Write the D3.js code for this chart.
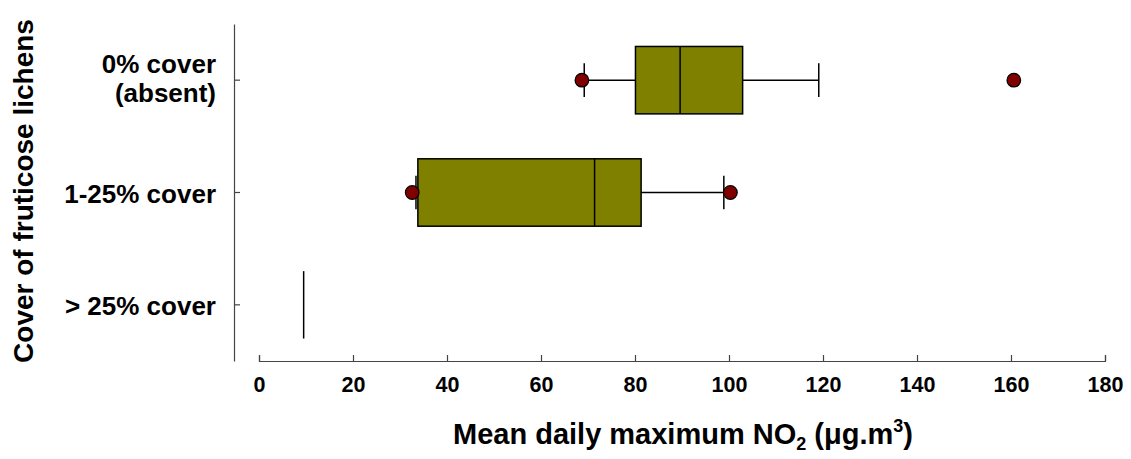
<!DOCTYPE html>
<html>
<head>
<meta charset="utf-8">
<script src="https://cdn.jsdelivr.net/npm/d3@7"></script>
<style>
  body { margin: 0; background: #fff; }
  svg text { font-family: "Liberation Sans", Arial, sans-serif; font-weight: bold; fill: #000; }
</style>
</head>
<body>
<svg id="chart" width="1131" height="459"></svg>
<script>
// values
const categories = ['0% cover|(absent)', '1-25% cover', '> 25% cover']
const whiskerLow = [69.2, 33.4, null]
const q1 = [80.1, 33.8, 9.5]
const median = [89.6, 71.4, 9.5]
const q3 = [102.9, 81.3, 9.5]
const whiskerHigh = [119.1, 98.9, null]
const outliers = [[68.7, 160.6], [32.6, 100.3], []]
const xTicks = [0, 20, 40, 60, 80, 100, 120, 140, 160, 180]

const rows = categories.map((c, i) => ({
  cat: c, lo: whiskerLow[i], q1: q1[i], med: median[i], q3: q3[i], hi: whiskerHigh[i], out: outliers[i]
}))

const svg = d3.select('#chart')
const mLeft = 259, mRight = 1105, mTop = 24, mBottom = 361, yAxisX = 234

const x = d3.scaleLinear().domain([0, 180]).range([mLeft, mRight])
const y = d3.scaleBand().domain(categories).range([mTop, mBottom]).paddingInner(0.4).paddingOuter(0.2)

// x axis, ticks pointing up
const xAxis = svg.append('g')
  .attr('transform', 'translate(0,' + mBottom + ')')
  .call(d3.axisBottom(x).tickValues(xTicks).tickSizeInner(-6).tickSizeOuter(-6).tickPadding(16))
xAxis.attr('font-family', null).attr('font-size', null)
xAxis.select('.domain').attr('stroke', '#444').attr('stroke-width', 1.2)
xAxis.selectAll('.tick line').attr('stroke', '#444').attr('stroke-width', 1.2)
xAxis.selectAll('.tick text').attr('font-size', 21.5)

// y axis, ticks pointing right
const yAxis = svg.append('g')
  .attr('transform', 'translate(' + yAxisX + ',0)')
  .call(d3.axisLeft(y).tickSizeInner(-6).tickSizeOuter(0).tickPadding(18))
yAxis.attr('font-family', null).attr('font-size', null)
yAxis.select('.domain').attr('stroke', '#444').attr('stroke-width', 1.2)
yAxis.selectAll('.tick line').attr('stroke', '#444').attr('stroke-width', 1.2)
yAxis.selectAll('.tick text')
  .attr('font-size', 26)
  .each(function (d) {
    const parts = d.split('|')
    const t = d3.select(this).text(null).attr('dy', null)
    if (parts.length === 1) {
      t.append('tspan').attr('x', -18).attr('y', 10.5).text(parts[0])
    } else {
      t.append('tspan').attr('x', -18).attr('y', -7.3).text(parts[0])
      t.append('tspan').attr('x', -18).attr('y', 21.7).text(parts[1])
    }
  })

// boxes
const g = svg.append('g')
const box = g.selectAll('.box').data(rows).enter().append('g').attr('class', 'box')
const bw = y.bandwidth()
const cy = d => y(d.cat) + bw / 2

box.filter(d => d.lo != null).append('line')
  .attr('x1', d => x(d.lo)).attr('x2', d => x(d.q1))
  .attr('y1', cy).attr('y2', cy)
  .attr('stroke', '#000').attr('stroke-width', 1.5)
box.filter(d => d.hi != null).append('line')
  .attr('x1', d => x(d.q3)).attr('x2', d => x(d.hi))
  .attr('y1', cy).attr('y2', cy)
  .attr('stroke', '#000').attr('stroke-width', 1.5)
box.filter(d => d.lo != null).append('line')
  .attr('x1', d => x(d.lo)).attr('x2', d => x(d.lo))
  .attr('y1', d => cy(d) - bw / 4).attr('y2', d => cy(d) + bw / 4)
  .attr('stroke', '#000').attr('stroke-width', 1.5)
box.filter(d => d.hi != null).append('line')
  .attr('x1', d => x(d.hi)).attr('x2', d => x(d.hi))
  .attr('y1', d => cy(d) - bw / 4).attr('y2', d => cy(d) + bw / 4)
  .attr('stroke', '#000').attr('stroke-width', 1.5)

box.filter(d => d.q3 > d.q1).append('rect')
  .attr('x', d => x(d.q1)).attr('width', d => x(d.q3) - x(d.q1))
  .attr('y', d => y(d.cat)).attr('height', bw)
  .attr('fill', '#808000').attr('stroke', '#000').attr('stroke-width', 1.5)

box.append('line')
  .attr('x1', d => x(d.med)).attr('x2', d => x(d.med))
  .attr('y1', d => y(d.cat)).attr('y2', d => y(d.cat) + bw)
  .attr('stroke', '#000').attr('stroke-width', 1.5)

box.selectAll('circle').data(d => d.out.map(v => ({ v, cat: d.cat }))).enter().append('circle')
  .attr('cx', d => x(d.v)).attr('cy', cy).attr('r', 6.8)
  .attr('fill', '#800000').attr('stroke', '#000').attr('stroke-width', 1.2)

// axis titles
svg.append('text')
  .attr('transform', 'translate(32.5,' + 191 + ') rotate(-90)')
  .attr('text-anchor', 'middle')
  .attr('font-size', 28)
  .text('Cover of fruticose lichens')

const xt = svg.append('text')
  .attr('x', (mLeft + mRight) / 2 + 1).attr('y', 444)
  .attr('text-anchor', 'middle')
  .attr('font-size', 29)
xt.append('tspan').text('Mean daily maximum NO')
xt.append('tspan').attr('font-size', 18).attr('dy', 6).text('2')
xt.append('tspan').attr('dy', -6).text(' (\u03bcg.m')
xt.append('tspan').attr('font-size', 18).attr('dy', -12).text('3')
xt.append('tspan').attr('dy', 12).text(')')
</script>
</body>
</html>
